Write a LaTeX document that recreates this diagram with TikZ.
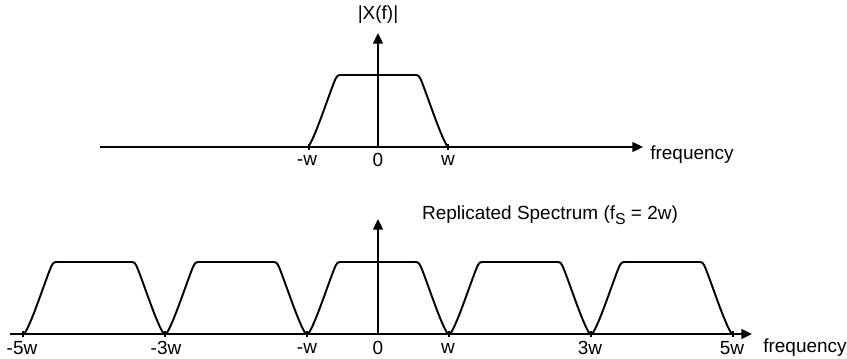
\documentclass[tikz,border=0pt]{standalone}
\usepackage{fontspec}
\setmainfont{Liberation Sans}
\usetikzlibrary{arrows.meta,positioning}

% one spectral band, drawn around its centre (pixel units, y downwards)
\newcommand{\band}[1]{%
  \draw[curve] (#1-70,0) .. controls (#1-63,-8) and (#1-46,-62) .. (#1-42,-69)
    .. controls (#1-41,-71) and (#1-40,-72) .. (#1-38,-72) -- (#1+38,-72)
    .. controls (#1+40,-72) and (#1+41,-71) .. (#1+42,-69)
    .. controls (#1+46,-62) and (#1+63,-8) .. (#1+70,0);}
\newcommand{\subS}{\raisebox{-0.45ex}{\fontsize{9}{10}\selectfont S}}

\begin{document}
\begin{tikzpicture}[x=0.02cm, y=-0.02cm,
    axis/.style={line width=1.1pt, -{Triangle[length=6pt, width=5.5pt]}},
    curve/.style={line width=1.1pt, line join=round},
    tick/.style={line width=0.8pt},
    lbl/.style={font=\fontsize{10.8}{13}\selectfont, inner sep=1pt}
]
\useasboundingbox (0,0) rectangle (847,358);

% spectrum of the signal
\node[lbl] (tfreq) at (692,155) {frequency};
\node[lbl] (tmag) at (378,15) {|X(f)|};
\coordinate (tleft) at (100,147);
\coordinate (tzero) at (378,147);
\coordinate (ttop) at (378,33);
\draw[axis] (tleft) -- (643,147);
\draw[axis] (tzero) -- (ttop);
\begin{scope}[shift={(0,147)}]
  \band{378}
\end{scope}
\foreach \x/\t in {309/-w, 448/w} {
  \draw[tick] (\x,144) -- (\x,150);
}
\node[lbl] (tmw) at (307,160) {-w};
\node[lbl] (tz) at (378,160) {0};
\node[lbl] (tw) at (448,160) {w};

% replicated spectrum
\node[lbl] (bfreq) at (805,348) {frequency};
\node[lbl] (btitle) at (550,215) {Replicated Spectrum (f\subS{} = 2w)};
\coordinate (bleft) at (10,334);
\coordinate (bzero) at (378,334);
\coordinate (btop) at (378,219);
\draw[axis] (bleft) -- (752,334);
\draw[axis] (bzero) -- (btop);
\begin{scope}[shift={(0,334)}]
  \foreach \c in {94,236,378,520,662} {
    \band{\c}
  }
\end{scope}
\foreach \x in {23,165,307,449,591,733} {
  \draw[tick] (\x,331) -- (\x,337);
}
\foreach \x/\t in {22/-5w, 166/-3w, 307/-w, 378/0, 448/w, 590/3w, 732/5w} {
  \node[lbl] at (\x,348) {\t};
}
\end{tikzpicture}
\end{document}
